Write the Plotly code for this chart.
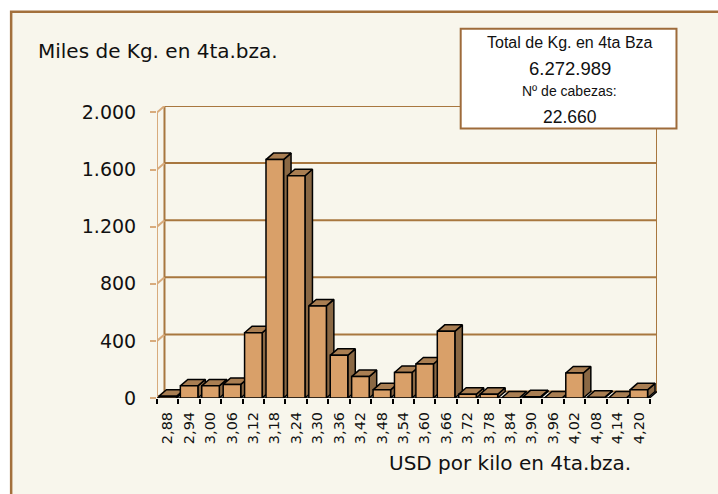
import plotly.graph_objects as go

# ---------------- data ----------------
categories = ["2,88", "2,94", "3,00", "3,06", "3,12", "3,18", "3,24", "3,30",
              "3,36", "3,42", "3,48", "3,54", "3,60", "3,66", "3,72", "3,78",
              "3,84", "3,90", "3,96", "4,02", "4,08", "4,14", "4,20"]
values = [12, 85, 85, 95, 457, 1670, 1557, 645, 299, 150, 57, 179, 238, 467,
          26, 26, 0, 8, 0, 175, 5, 0, 57]
y_tickvals = [0, 400, 800, 1200, 1600, 2000]
y_ticktext = ["0", "400", "800", "1.200", "1.600", "2.000"]
y_title = "Miles de Kg. en 4ta.bza."
x_title = "USD por kilo en 4ta.bza."
box_lines = ["Total de Kg. en 4ta Bza", "6.272.989", "Nº de cabezas:", "22.660"]

# ---------------- geometry / style ----------------
W, H = 718, 494
L_PX, R_FRONT_PX = 157, 650
Y0_PX, Y2000_PX = 398, 112
DX_PX, DY_PX = 7.5, 6.5
n = len(categories)
slot = (R_FRONT_PX - L_PX) / n
ppu = (Y0_PX - Y2000_PX) / 2000.0
dxu = DX_PX / slot
dyu = DY_PX / ppu
ymax = 2000
x_lo, x_hi = -0.5, n - 0.5
R_PX = R_FRONT_PX + DX_PX
T_PX = Y0_PX - (ymax + dyu) * ppu
plot_w = R_PX - L_PX
plot_h = Y0_PX - T_PX

BG = "#F8F6EC"
BROWN = "#A8773F"
LIGHT = "#D8AB7C"
FRONT = "#D9A069"
TOP = "#A97E52"
SIDE = "#8A6844"
FONT = "DejaVu Sans"


def px_x(px):
    return (px - L_PX) / plot_w


def px_y(py):
    return (Y0_PX - py) / plot_h


bw = 0.82
idx = list(range(n))

fig = go.Figure()

# back wall gridlines
gx, gy = [], []
for v in y_tickvals:
    gx += [x_lo + dxu, x_hi + dxu, None]
    gy += [v + dyu, v + dyu, None]
gx += [x_lo + dxu, x_lo + dxu, None, x_hi + dxu, x_hi + dxu]
gy += [dyu, ymax + dyu, None, dyu, ymax + dyu]
fig.add_trace(go.Scatter(x=gx, y=gy, mode="lines", line=dict(color=BROWN, width=2),
                         hoverinfo="skip", showlegend=False))

# left wall: front axis + diagonals
lx, ly = [x_lo, x_lo, None], [0, ymax, None]
for v in y_tickvals:
    lx += [x_lo, x_lo + dxu, None]
    ly += [v, v + dyu, None]
fig.add_trace(go.Scatter(x=lx, y=ly, mode="lines", line=dict(color=LIGHT, width=2),
                         hoverinfo="skip", showlegend=False))

# floor front edge
fig.add_trace(go.Scatter(x=[x_lo, x_hi, x_hi + dxu], y=[0, 0, dyu], mode="lines",
                         line=dict(color="black", width=1.5),
                         hoverinfo="skip", showlegend=False))

# bars: sides, tops, fronts
sx, sy, tx, ty, fx, fy = [], [], [], [], [], []
for i, v in zip(idx, values):
    a, b = i - bw / 2, i + bw / 2
    sx += [b, b, b + dxu, b + dxu, b, None]
    sy += [0, v, v + dyu, dyu, 0, None]
    tx += [a, b, b + dxu, a + dxu, a, None]
    ty += [v, v, v + dyu, v + dyu, v, None]
    fx += [a, b, b, a, a, None]
    fy += [0, 0, v, v, 0, None]
for xs, ys, col in [(sx, sy, SIDE), (tx, ty, TOP), (fx, fy, FRONT)]:
    fig.add_trace(go.Scatter(x=xs, y=ys, mode="lines", fill="toself", fillcolor=col,
                             line=dict(color="black", width=1.5),
                             hoverinfo="skip", showlegend=False))

shapes = [
    dict(type="rect", xref="paper", yref="paper", layer="below",
         x0=px_x(11), x1=px_x(740), y0=px_y(520), y1=px_y(11),
         fillcolor=BG, line=dict(color="#A3703C", width=2.5)),
    dict(type="rect", xref="paper", yref="paper", layer="above",
         x0=px_x(461), x1=px_x(677), y0=px_y(128), y1=px_y(28),
         fillcolor="white", line=dict(color="#9E6B3A", width=2)),
]

annotations = [
    dict(text=y_title, xref="paper", yref="paper", x=px_x(36), y=px_y(50),
         xanchor="left", yanchor="middle", showarrow=False,
         font=dict(family=FONT, size=20, color="#111")),
    dict(text=x_title, xref="paper", yref="paper", x=px_x(387), y=px_y(463),
         xanchor="left", yanchor="middle", showarrow=False,
         font=dict(family=FONT, size=20, color="#111")),
]
for txt, py, fs in zip(box_lines, [41.7, 68, 90.7, 116.7], [16, 18.5, 14, 17.5]):
    annotations.append(dict(text=txt, xref="paper", yref="paper", x=px_x(570), y=px_y(py),
                            xanchor="center", yanchor="middle", showarrow=False,
                            font=dict(family="Liberation Sans", size=fs, color="#111")))

fig.update_layout(
    width=W, height=H, autosize=False,
    margin=dict(l=L_PX, r=W - R_PX, t=T_PX, b=H - Y0_PX, pad=0),
    paper_bgcolor="white", plot_bgcolor="rgba(0,0,0,0)",
    shapes=shapes, annotations=annotations, showlegend=False,
    xaxis=dict(range=[x_lo, x_hi + dxu], tickvals=idx, ticktext=categories,
               tickangle=-90, ticks="", showgrid=False, zeroline=False, showline=False,
               tickfont=dict(family=FONT, size=14.5, color="#111"),
               ticklabelstandoff=10,
               minor=dict(tickvals=[i - 0.5 for i in range(n + 1)], ticks="outside",
                          ticklen=5, tickwidth=1.5, tickcolor="black", showgrid=False)),
    yaxis=dict(range=[0, ymax + dyu], tickvals=y_tickvals, ticktext=y_ticktext,
               ticks="outside", ticklen=6, tickwidth=2, tickcolor=LIGHT,
               showgrid=False, zeroline=False, showline=False,
               tickfont=dict(family=FONT, size=19, color="#111"),
               ticklabelstandoff=10),
)

fig.write_html("out.html", config={"displayModeBar": False},
               post_script="document.body.style.margin='0';")
